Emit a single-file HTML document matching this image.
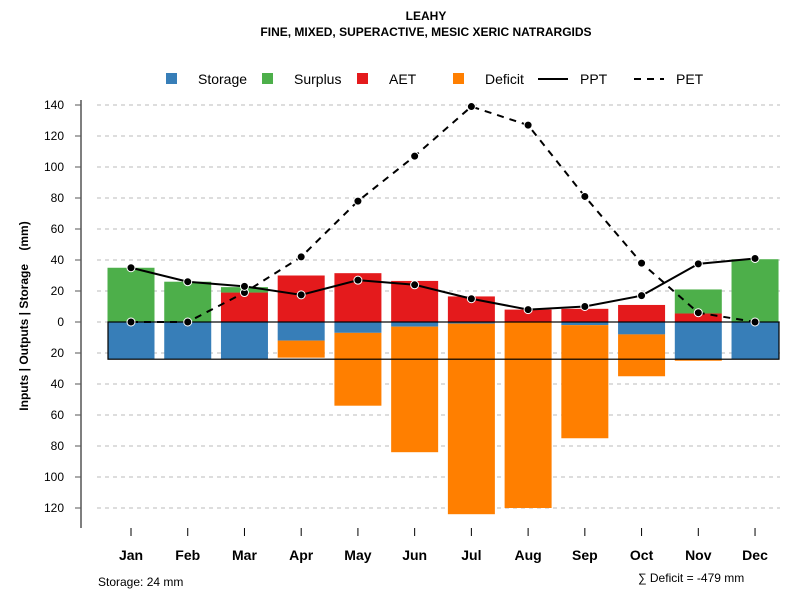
<!DOCTYPE html>
<html><head><meta charset="utf-8"><style>
body{margin:0;background:#fff}
svg text{font-family:"Liberation Sans",sans-serif}
</style></head><body>
<svg id="c" width="800" height="600" xmlns="http://www.w3.org/2000/svg">
<text x="426" y="20" text-anchor="middle" font-size="12" font-weight="bold">LEAHY</text>
<text x="426" y="36" text-anchor="middle" font-size="12" font-weight="bold">FINE, MIXED, SUPERACTIVE, MESIC XERIC NATRARGIDS</text>
<g id="legend">
<rect x="166" y="73" width="11" height="11" fill="#377eb8"/>
<text x="198" y="84" font-size="14">Storage</text>
<rect x="262" y="73" width="11" height="11" fill="#4daf4a"/>
<text x="294" y="84" font-size="14">Surplus</text>
<rect x="357" y="73" width="11" height="11" fill="#e41a1c"/>
<text x="389" y="84" font-size="14">AET</text>
<rect x="453" y="73" width="11" height="11" fill="#ff7f00"/>
<text x="485" y="84" font-size="14">Deficit</text>
<line x1="538" y1="79" x2="568" y2="79" stroke="#000" stroke-width="2"/>
<text x="580" y="84" font-size="14">PPT</text>
<line x1="634" y1="79" x2="664" y2="79" stroke="#000" stroke-width="2" stroke-dasharray="7,6"/>
<text x="676" y="84" font-size="14">PET</text>
</g>
<text transform="translate(28,316) rotate(-90)" text-anchor="middle" font-size="12" font-weight="bold">Inputs | Outputs | Storage&#160;&#160;&#160;&#160;(mm)</text>
<text x="98" y="586" font-size="12">Storage: 24 mm</text>
<text x="638" y="582" font-size="12">∑ Deficit = -479 mm</text>
</svg>
<script>
const months=["Jan","Feb","Mar","Apr","May","Jun","Jul","Aug","Sep","Oct","Nov","Dec"];
const storage=[24,24,24,12,7,3,1,0,2,8,24,24];
const deficit=[0,0,0,11,47,81,123,120,73,27,1,0];
const aet=[0,0,19,30,31.5,26.5,16.5,8,8.5,11,5.5,0];
const surplus=[35,26,3.5,0,0,0,0,0,0,0,15.5,40.5];
const ppt=[35,26,23,17.5,27,24,15,8,10,17,37.5,41];
const pet=[0,0,19,42,78,107,139,127,81,38,6,0];
const capacity=24;
const yTicks=[140,120,100,80,60,40,20,0,-20,-40,-60,-80,-100,-120];
const NS="http://www.w3.org/2000/svg";
const svg=document.getElementById("c");
const y=v=>322-v*1.55;
const x=i=>131+i*56.73;
const bw=47;
function mk(tag,attrs,parent){const e=document.createElementNS(NS,tag);for(const k in attrs)e.setAttribute(k,attrs[k]);(parent||svg).appendChild(e);return e;}
const grid=mk("g",{});


yTicks.forEach(t=>{
  const g=mk("line",{x1:97,x2:780,y1:y(t),y2:y(t),stroke:"#bbb","stroke-dasharray":"4,4"},grid);
  
  
  const tk=mk("line",{x1:75,x2:81,y1:y(t),y2:y(t),stroke:"#555"});
  
  
  const lb=mk("text",{x:64,y:y(t)+4,"text-anchor":"end","font-size":12});
  lb.textContent=Math.abs(t);
  
  
});
const ax=mk("line",{x1:81,x2:81,y1:100,y2:528,stroke:"#555","stroke-width":1.5});


function bar(i,v0,v1,col,name){
  if(v1===v0)return;
  const r=mk("rect",{x:x(i)-bw/2,y:Math.min(y(v0),y(v1)),width:bw,height:Math.abs(y(v1)-y(v0)),fill:col});
  
  
}
months.forEach((m,i)=>{
  bar(i,0,-storage[i],"#377eb8","bar-storage-"+m.toLowerCase());
  bar(i,-storage[i],-storage[i]-deficit[i],"#ff7f00","bar-deficit-"+m.toLowerCase());
  bar(i,0,aet[i],"#e41a1c","bar-aet-"+m.toLowerCase());
  bar(i,aet[i],aet[i]+surplus[i],"#4daf4a","bar-surplus-"+m.toLowerCase());
  const tk=mk("line",{x1:x(i),x2:x(i),y1:528,y2:536,stroke:"#000"});
  
  
  const lb=mk("text",{x:x(i),y:560,"text-anchor":"middle","font-size":14,"font-weight":"bold"});
  lb.textContent=m;
  
  
});
const box=mk("rect",{x:108,y:y(0),width:671,height:y(-capacity)-y(0),fill:"none",stroke:"#000","stroke-width":1.2});


function line(vals,dash,name){
  const p=mk("polyline",{points:vals.map((v,i)=>x(i)+","+y(v)).join(" "),fill:"none",stroke:"#000","stroke-width":2,"stroke-dasharray":dash});
  
  
}
line(pet,"7,6","pet-line");
line(ppt,"none","ppt-line");
[pet,ppt].forEach((vals,k)=>vals.forEach((v,i)=>{
  const c=mk("circle",{cx:x(i),cy:y(v),r:4,fill:"#000",stroke:"#fff","stroke-width":1});
  
  
}));
</script>
</body></html>
